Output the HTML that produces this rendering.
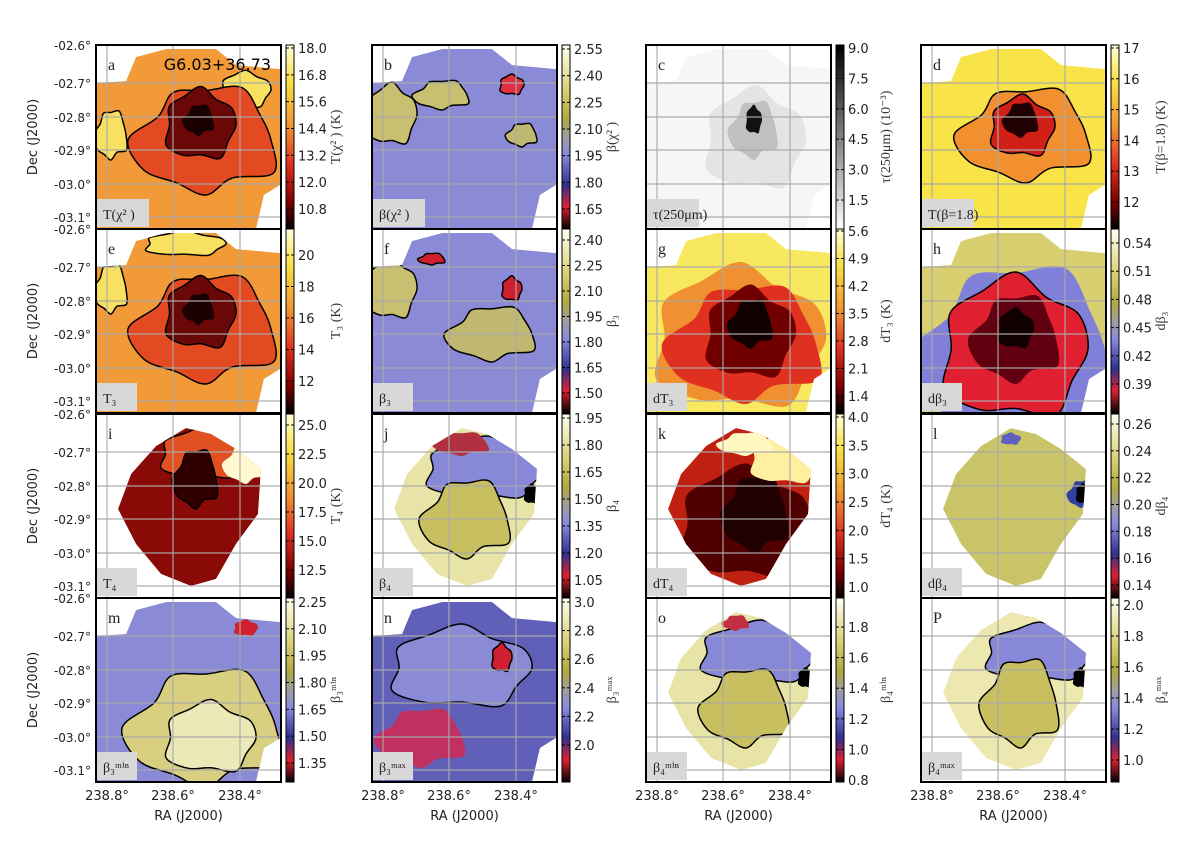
<!DOCTYPE html>
<html><head><meta charset="utf-8"><style>
body{margin:0;background:#fff}
svg{display:block;font-family:"DejaVu Sans","Liberation Sans",sans-serif}
.ser{font-family:"Liberation Serif","DejaVu Serif",serif}
</style></head><body>
<svg id="fig" width="1200" height="842" viewBox="0 0 1200 842" xmlns="http://www.w3.org/2000/svg">
<defs>
<linearGradient id="cm-T" x1="0" y1="0" x2="0" y2="1"><stop offset="0" stop-color="#ffffd8"/><stop offset="0.2" stop-color="#f8e040"/><stop offset="0.45" stop-color="#f09030"/><stop offset="0.65" stop-color="#e03020"/><stop offset="0.85" stop-color="#800000"/><stop offset="1" stop-color="#000"/></linearGradient>
<linearGradient id="cm-B" x1="0" y1="0" x2="0" y2="1"><stop offset="0" stop-color="#fffff0"/><stop offset="0.25" stop-color="#d8d070"/><stop offset="0.4" stop-color="#b0a840"/><stop offset="0.5" stop-color="#a0a0a0"/><stop offset="0.6" stop-color="#8888e0"/><stop offset="0.76" stop-color="#303090"/><stop offset="0.88" stop-color="#e02030"/><stop offset="1" stop-color="#000"/></linearGradient>
<linearGradient id="cm-G" x1="0" y1="0" x2="0" y2="1"><stop offset="0" stop-color="#000"/><stop offset="1" stop-color="#fff"/></linearGradient>
</defs>
</svg>
<script>
// Colorbar tick labels per panel (top to bottom)
const tickA=["18.0","16.8","15.6","14.4","13.2","12.0","10.8"];
const tickB=["2.55","2.40","2.25","2.10","1.95","1.80","1.65"];
const tickC=["9.0","7.5","6.0","4.5","3.0","1.5"];
const tickD=["17","16","15","14","13","12"];
const tickE=["20","18","16","14","12"];
const tickF=["2.40","2.25","2.10","1.95","1.80","1.65","1.50"];
const tickG=["5.6","4.9","4.2","3.5","2.8","2.1","1.4"];
const tickH=["0.54","0.51","0.48","0.45","0.42","0.39"];
const tickI=["25.0","22.5","20.0","17.5","15.0","12.5"];
const tickJ=["1.95","1.80","1.65","1.50","1.35","1.20","1.05"];
const tickK=["4.0","3.5","3.0","2.5","2.0","1.5","1.0"];
const tickL=["0.26","0.24","0.22","0.20","0.18","0.16","0.14"];
const tickM=["2.25","2.10","1.95","1.80","1.65","1.50","1.35"];
const tickN=["3.0","2.8","2.6","2.4","2.2","2.0"];
const tickO=["1.8","1.6","1.4","1.2","1.0","0.8"];
const tickP=["2.0","1.8","1.6","1.4","1.2","1.0"];
const decTicks=["-02.6°","-02.7°","-02.8°","-02.9°","-03.0°","-03.1°"];
const raTicks=["238.8°","238.6°","238.4°"];

const NS="http://www.w3.org/2000/svg";
const svg=document.getElementById('fig');
function mk(tag,attrs,parent,text){const e=document.createElementNS(NS,tag);for(const k in attrs)e.setAttribute(k,attrs[k]);if(text!==undefined)e.textContent=text;(parent||svg).appendChild(e);return e;}
const colX=[96,372,646,921], rowY=[45,229,414,598], W=185, H=184;
const FULL="M0,38 L30,36 L40,12 L70,4 L120,4 L140,20 L184,24 L184,140 L168,150 L160,184 L0,184 Z";
const DIAM="M60,32 L90,14 L115,20 L140,35 L165,55 L162,100 L140,130 L120,165 L95,172 L65,160 L40,130 L22,95 L35,60 Z";
function blob(cx,cy,rx,ry,w){const n=w.length;let pts=[];for(let i=0;i<n;i++){const a=i/n*2*Math.PI;pts.push([cx+rx*w[i]*Math.cos(a),cy+ry*w[i]*Math.sin(a)]);}
 let d="M"+pts[0].join(",");for(let i=0;i<n;i++){const p0=pts[(i-1+n)%n],p1=pts[i],p2=pts[(i+1)%n],p3=pts[(i+2)%n];
 d+=" C"+(p1[0]+(p2[0]-p0[0])/6).toFixed(1)+","+(p1[1]+(p2[1]-p0[1])/6).toFixed(1)+" "+(p2[0]-(p3[0]-p1[0])/6).toFixed(1)+","+(p2[1]-(p3[1]-p1[1])/6).toFixed(1)+" "+p2[0].toFixed(1)+","+p2[1].toFixed(1);}return d+"Z";}
const w1=[1,0.9,1.1,0.85,1,1.15,0.9,1.05,0.95,1.1,0.85,1], w2=[1,1.2,0.8,1,0.9,1.1,1.2,0.85,1,0.9,1.1,0.95];
// panel specs: shape, base colour, layers [cx,cy,rx,ry,wob,fill,stroke]
const panels=[
 {id:"a",cm:"T",lab:"T(χ² ) (K)",box:"T(χ² )",ticks:tickA,t0:3,t1:164,shape:FULL,base:"#f29a38",layers:[[150,45,25,18,w1,"#f8e060",1],[15,90,15,25,w2,"#f8e060",1],[110,95,65,55,w2,"#e34a22",1],[105,80,35,35,w1,"#6a0808",1],[103,75,14,16,w2,"#1a0000",0]]},
 {id:"b",cm:"B",lab:"β(χ² )",box:"β(χ² )",ticks:tickB,t0:4,t1:164,shape:FULL,base:"#8a8ad6",layers:[[20,70,25,30,w1,"#c8c070",1],[70,50,25,15,w2,"#c8c070",1],[140,40,12,10,w1,"#e03040",1],[150,90,14,12,w2,"#c0b870",1]]},
 {id:"c",cm:"G",lab:"τ(250μm) (10⁻³)",box:"τ(250μm)",ticks:tickC,t0:3,t1:155,shape:FULL,base:"#f6f6f6",layers:[[110,95,50,50,w1,"#e4e4e4",0],[108,85,22,30,w2,"#c0c0c0",0],[108,75,8,14,w1,"#111",0]]},
 {id:"d",cm:"T",lab:"T(β=1.8) (K)",box:"T(β=1.8)",ticks:tickD,t0:3,t1:157,shape:FULL,base:"#f8e448",layers:[[105,90,60,48,w2,"#f29030",1],[102,82,32,30,w1,"#d02018",1],[100,75,16,18,w2,"#200000",0]]},
 {id:"e",cm:"T",lab:"T₃ (K)",box:"T₃",ticks:tickE,t0:26,t1:152,shape:FULL,base:"#f29a38",layers:[[90,15,40,12,w1,"#f8e060",1],[15,60,15,25,w2,"#f8e060",1],[110,100,65,55,w2,"#e34a22",1],[105,85,35,35,w1,"#6a0808",1],[103,80,14,16,w2,"#1a0000",0]]},
 {id:"f",cm:"B",lab:"β₃",box:"β₃",ticks:tickF,t0:11,t1:164,shape:FULL,base:"#8a8ad6",layers:[[20,60,25,30,w1,"#c8c070",1],[120,105,40,28,w2,"#c0b870",1],[140,60,10,12,w1,"#d02030",1],[60,30,12,6,w2,"#d02030",1]]},
 {id:"g",cm:"T",lab:"dT₃ (K)",box:"dT₃",ticks:tickG,t0:2,t1:167,shape:FULL,base:"#f8e860",layers:[[95,110,85,70,w1,"#f09030",0],[100,115,70,60,w2,"#e03020",0],[105,105,45,45,w1,"#700000",0],[105,95,20,25,w2,"#100000",0]]},
 {id:"h",cm:"B",lab:"dβ₃",box:"dβ₃",ticks:tickH,t0:14,t1:155,shape:FULL,base:"#d8d070",layers:[[95,125,90,90,w2,"#8080d8",0],[95,120,72,70,w1,"#e02030",1],[95,110,40,45,w2,"#600010",0],[95,100,18,20,w1,"#100000",0]]},
 {id:"i",cm:"T",lab:"T₄ (K)",box:"T₄",ticks:tickI,t0:11,t1:156,shape:DIAM,base:"#8a0a08",layers:[[110,40,45,25,w1,"#e05020",1],[150,50,20,20,w2,"#fff8d0",0],[100,65,20,30,w2,"#300000",1]]},
 {id:"j",cm:"B",lab:"β₄",box:"β₄",ticks:tickJ,t0:4,t1:166,shape:DIAM,base:"#e8e4a8",layers:[[115,55,60,30,w1,"#8888d8",1],[90,30,25,12,w2,"#b03040",0],[95,105,40,40,w2,"#c8c060",1],[160,80,8,10,w1,"#000",0]]},
 {id:"k",cm:"T",lab:"dT₄ (K)",box:"dT₄",ticks:tickK,t0:3,t1:173,shape:DIAM,base:"#c02010",layers:[[100,110,65,55,w1,"#500000",0],[110,100,30,40,w2,"#200000",0],[140,45,35,25,w1,"#fff0a0",0],[100,30,25,12,w2,"#fff8c0",0]]},
 {id:"l",cm:"B",lab:"dβ₄",box:"dβ₄",ticks:tickL,t0:10,t1:171,shape:DIAM,base:"#cac468",layers:[[90,25,10,6,w1,"#6060c0",0],[160,80,12,14,w2,"#3040a0",0],[162,80,7,10,w1,"#000",0]]},
 {id:"m",cm:"B",lab:"β₃ᵐⁱⁿ",box:"β₃ᵐⁱⁿ",ticks:tickM,t0:4,t1:165,shape:FULL,base:"#8a8ad6",layers:[[110,130,70,60,w2,"#d8d080",1],[115,140,45,35,w1,"#ece8b8",1],[150,30,12,8,w1,"#d02030",0]]},
 {id:"n",cm:"B",lab:"β₃ᵐᵃˣ",box:"β₃ᵐᵃˣ",ticks:tickN,t0:4,t1:147,shape:FULL,base:"#6060b8",layers:[[90,70,70,40,w1,"#8a8ad6",1],[50,140,40,30,w2,"#c03060",0],[130,60,10,14,w1,"#d02030",1]]},
 {id:"o",cm:"B",lab:"β₄ᵐⁱⁿ",box:"β₄ᵐⁱⁿ",ticks:tickO,t0:29,t1:182,shape:DIAM,base:"#e8e4a8",layers:[[115,55,60,30,w1,"#8888d8",1],[100,110,40,40,w2,"#c8c060",1],[90,25,12,8,w2,"#c03040",0],[160,80,8,10,w1,"#000",0]]},
 {id:"P",cm:"B",lab:"β₄ᵐᵃˣ",box:"β₄ᵐᵃˣ",ticks:tickP,t0:7,t1:162,shape:DIAM,base:"#ece8b0",layers:[[120,55,55,28,w1,"#8888d8",1],[100,105,35,45,w2,"#c8c060",1],[160,80,8,10,w1,"#000",0]]}
];
const gridX=[11,77,144], gridY=[0,38,72,105,139,172];
panels.forEach((p,i)=>{
 const r=Math.floor(i/4), c=i%4, x0=colX[c], y0=rowY[r];
 const g=mk('g',{transform:`translate(${x0},${y0})`});
 
 
 const cid='clip'+p.id;
 const cp=mk('clipPath',{id:cid},g);mk('rect',{x:0,y:0,width:W,height:H},cp);
 const inner=mk('g',{'clip-path':`url(#${cid})`},g);
 mk('rect',{x:0,y:0,width:W,height:H,fill:'#fff'},inner);
 const sclip='s'+cid;const sp=mk('clipPath',{id:sclip},inner);mk('path',{d:p.shape},sp);
 const mg=mk('g',{'clip-path':`url(#${sclip})`},inner);
 mk('path',{d:p.shape,fill:p.base},mg);
 p.layers.forEach(L=>{mk('path',{d:blob(L[0],L[1],L[2],L[3],L[4]),fill:L[5],stroke:L[6]?'#000':'none','stroke-width':1.5},mg);});
 gridX.forEach(gx=>mk('line',{x1:gx,x2:gx,y1:0,y2:H,stroke:'#aaa','stroke-width':1.4,opacity:0.8},inner));
 gridY.forEach(gy=>mk('line',{x1:0,x2:W,y1:gy,y2:gy,stroke:'#aaa','stroke-width':1.4,opacity:0.8},inner));
 const bx=mk('rect',{x:1,y:H-30,width:p.box.length>5?52:40,height:28,fill:'#d8d8d8'},inner);
 
 
 mk('text',{x:7,y:H-10,'font-size':14,class:'ser',fill:'#222'},inner,p.box);
 mk('text',{x:12,y:25,'font-size':16,class:'ser',fill:'#222'},inner,p.id);
 mk('rect',{x:0,y:0,width:W,height:H,fill:'none',stroke:'#000','stroke-width':2},g);
 if(p.id==='a'){mk('text',{x:175,y:25,'font-size':16,'text-anchor':'end',fill:'#000'},g,'G6.03+36.73');}
 // colorbar
 const cb=mk('g',{transform:`translate(${x0+W+5},${y0})`});
 
 
 mk('rect',{x:0,y:0,width:8,height:H,fill:`url(#cm-${p.cm})`,stroke:'#000','stroke-width':1},cb);
 const n=p.ticks.length;
 p.ticks.forEach((t,k)=>{const yy=p.t0+(p.t1-p.t0)*k/(n-1);
  mk('line',{x1:0,x2:3,y1:yy,y2:yy,stroke:'#000'},cb);mk('line',{x1:5,x2:8,y1:yy,y2:yy,stroke:'#000'},cb);
  mk('text',{x:12,y:yy+5,'font-size':13,fill:'#222'},cb,t);});
 const lt=mk('text',{x:0,y:0,'font-size':14,class:'ser',fill:'#333','text-anchor':'middle',transform:`translate(${54},${H/2}) rotate(-90)`},cb,p.lab);
 
 
});
// Dec axis labels
rowY.forEach((y0,r)=>{
 decTicks.forEach((t,k)=>{if(r>0&&k===0)return;const yy=(k===0?y0:y0+gridY[k]);
  mk('text',{x:91,y:yy+5,'font-size':12,'text-anchor':'end',fill:'#222'},svg,t);});
 if(r>0)mk('text',{x:91,y:y0+5,'font-size':12,'text-anchor':'end',fill:'#222'},svg,decTicks[0]);
 const dl=mk('text',{x:0,y:0,'font-size':13,'text-anchor':'middle',fill:'#222',transform:`translate(37,${y0+H/2}) rotate(-90)`},svg,'Dec (J2000)');
 
 
});
colX.forEach(x0=>{
 raTicks.forEach((t,k)=>mk('text',{x:x0+gridX[k],y:800,'font-size':13,'text-anchor':'middle',fill:'#222'},svg,t));
 const rl=mk('text',{x:x0+W/2,y:820,'font-size':13,'text-anchor':'middle',fill:'#222'},svg,'RA (J2000)');
 
 
});
</script>
</body></html>
